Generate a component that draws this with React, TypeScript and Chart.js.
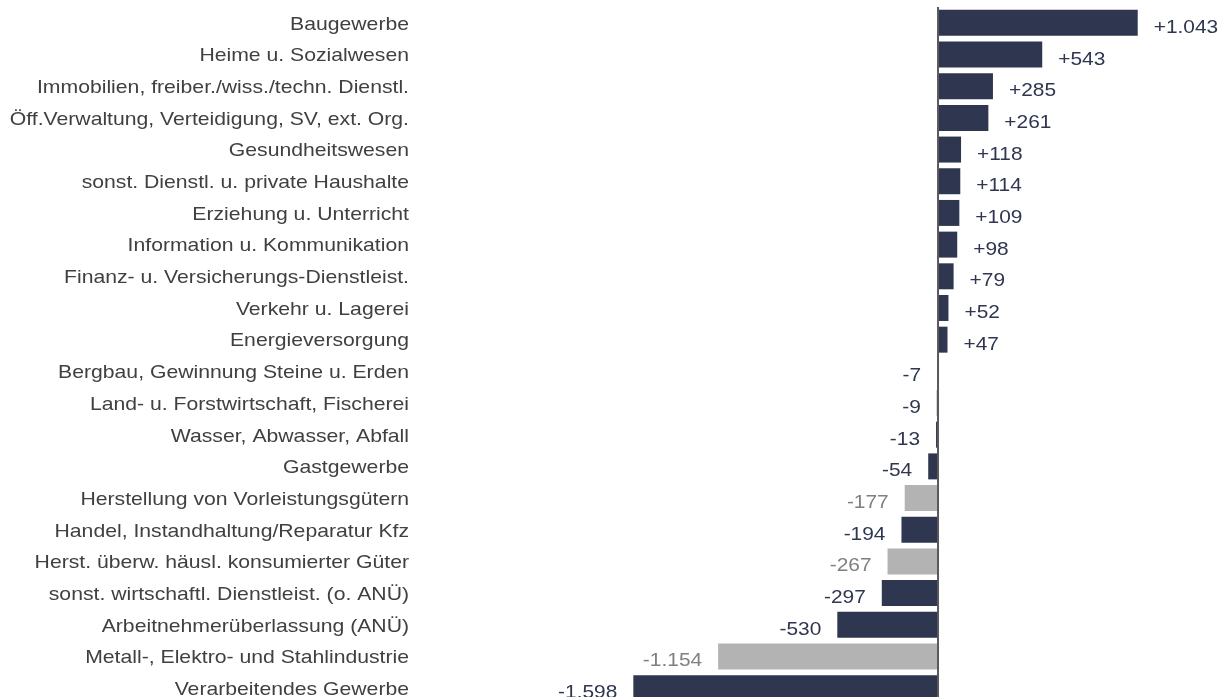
import React, { useEffect, useRef } from "react";
import { Chart, registerables } from "chart.js";

Chart.register(...registerables);

const categories: string[] = [
  "Baugewerbe",
  "Heime u. Sozialwesen",
  "Immobilien, freiber./wiss./techn. Dienstl.",
  "Öff.Verwaltung, Verteidigung, SV, ext. Org.",
  "Gesundheitswesen",
  "sonst. Dienstl. u. private Haushalte",
  "Erziehung u. Unterricht",
  "Information u. Kommunikation",
  "Finanz- u. Versicherungs-Dienstleist.",
  "Verkehr u. Lagerei",
  "Energieversorgung",
  "Bergbau, Gewinnung Steine u. Erden",
  "Land- u. Forstwirtschaft, Fischerei",
  "Wasser, Abwasser, Abfall",
  "Gastgewerbe",
  "Herstellung von Vorleistungsgütern",
  "Handel, Instandhaltung/Reparatur Kfz",
  "Herst. überw. häusl. konsumierter Güter",
  "sonst. wirtschaftl. Dienstleist. (o. ANÜ)",
  "Arbeitnehmerüberlassung (ANÜ)",
  "Metall-, Elektro- und Stahlindustrie",
  "Verarbeitendes Gewerbe",
];

const values: number[] = [
  1043, 543, 285, 261, 118, 114, 109, 98, 79, 52, 47,
  -7, -9, -13, -54, -177, -194, -267, -297, -530, -1154, -1598,
];

// true = sub-sector (grey bar)
const isSubSector: boolean[] = [
  false, false, false, false, false, false, false, false, false, false, false,
  false, false, false, false, true, false, true, false, false, true, false,
];

const NAVY = "#2f3650";
const GREY_BAR = "#b3b3b3";
const GREY_TEXT = "#808080";
const LABEL_TEXT = "#404040";
const FONT = '19px "Liberation Sans", Arial, sans-serif';
const CAT_STRETCH = 1.115;
const VAL_STRETCH = 1.1;

function formatValue(v: number): string {
  const abs = Math.abs(v)
    .toString()
    .replace(/\B(?=(\d{3})+(?!\d))/g, ".");
  return (v > 0 ? "+" : "-") + abs;
}

function drawStretched(
  ctx: CanvasRenderingContext2D,
  text: string,
  x: number,
  y: number,
  align: "left" | "right",
  stretch: number
) {
  ctx.save();
  ctx.translate(x, y);
  ctx.scale(stretch, 1);
  ctx.textAlign = align;
  ctx.fillText(text, 0, 0);
  ctx.restore();
}

export default function App() {
  const canvasRef = useRef<HTMLCanvasElement | null>(null);

  useEffect(() => {
    const canvas = canvasRef.current;
    if (!canvas) return;

    const labelsPlugin = {
      id: "labelsPlugin",
      afterDatasetsDraw(chart: any) {
        const ctx = chart.ctx;
        const meta = chart.getDatasetMeta(0);
        const ys = chart.scales.y;
        const xs = chart.scales.x;
        ctx.save();
        ctx.font = FONT;
        ctx.textBaseline = "alphabetic";
        // category labels
        ctx.fillStyle = LABEL_TEXT;
        categories.forEach((c, i) => {
          const y = ys.getPixelForValue(i);
          drawStretched(ctx, c, ys.right - 11, y + 6.8, "right", CAT_STRETCH);
        });
        // value labels
        meta.data.forEach((bar: any, i: number) => {
          const v = values[i];
          ctx.fillStyle = isSubSector[i] ? GREY_TEXT : NAVY;
          if (v >= 0) {
            drawStretched(ctx, formatValue(v), bar.x + 16, bar.y + 10, "left", VAL_STRETCH);
          } else {
            drawStretched(ctx, formatValue(v), bar.x - 16, bar.y + 10, "right", VAL_STRETCH);
          }
        });
        // zero line
        const x0 = xs.getPixelForValue(0);
        ctx.strokeStyle = "#5a5a5a";
        ctx.lineWidth = 2;
        ctx.beginPath();
        ctx.moveTo(x0 - 0.5, chart.chartArea.top);
        ctx.lineTo(x0 - 0.5, chart.chartArea.bottom);
        ctx.stroke();
        ctx.restore();
      },
    };

    const chart = new Chart(canvas, {
      type: "bar",
      data: {
        labels: categories,
        datasets: [
          {
            data: values,
            backgroundColor: values.map((_, i) => (isSubSector[i] ? GREY_BAR : NAVY)),
            borderWidth: 0,
            barPercentage: 0.82,
            categoryPercentage: 1,
          },
        ],
      },
      options: {
        indexAxis: "y",
        animation: false,
        responsive: false,
        devicePixelRatio: 1,
        layout: { padding: { top: 7, left: 0, right: 0, bottom: 0 } },
        plugins: {
          legend: { display: false },
          tooltip: { enabled: false },
        },
        scales: {
          x: {
            display: false,
            min: -2715,
            max: 1500,
          },
          y: {
            grid: { display: false, drawTicks: false },
            border: { display: false },
            ticks: { display: false },
            afterFit: (scale: any) => {
              scale.width = 420;
            },
          },
        },
      },
      plugins: [labelsPlugin],
    });

    return () => chart.destroy();
  }, []);

  return (
    <div
      style={{
        position: "fixed",
        top: 0,
        left: 0,
        width: 1225,
        height: 697,
        overflow: "hidden",
        background: "#ffffff",
      }}
    >
      <canvas
        ref={canvasRef}
        width={1225}
        height={704}
        style={{ display: "block", width: 1225, height: 704 }}
      />
    </div>
  );
}
